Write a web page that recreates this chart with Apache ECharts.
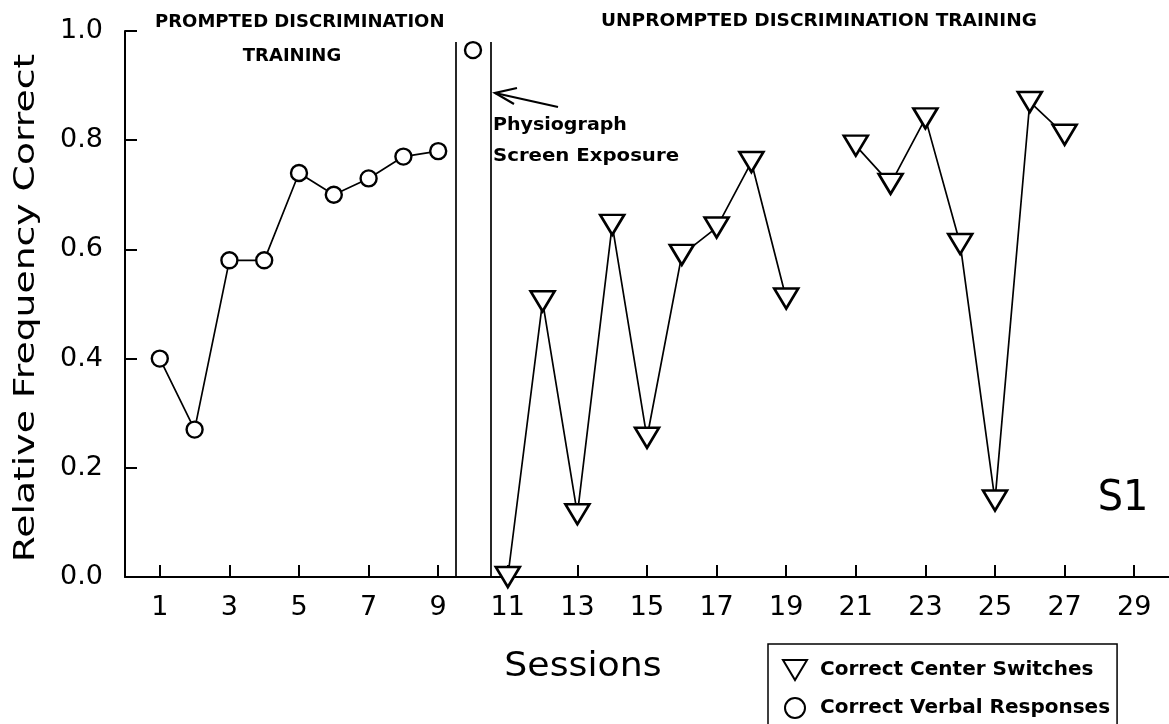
<!DOCTYPE html>
<html>
<head>
<meta charset="utf-8">
<script src="https://cdn.jsdelivr.net/npm/echarts@6/dist/echarts.min.js"></script>
<style>
html,body{margin:0;padding:0;background:#fff;}
#chart{width:1169px;height:724px;}
</style>
</head>
<body>
<div id="chart"></div>
<script>
// ---- data ----
const verbalSessions = [1, 2, 3, 4, 5, 6, 7, 8, 9];
const verbalValues   = [0.40, 0.27, 0.58, 0.58, 0.74, 0.70, 0.73, 0.77, 0.78];
const probeSessions  = [10];
const probeValues    = [0.965];
const switchSessions = [11, 12, 13, 14, 15, 16, 17, 18, 19, 20, 21, 22, 23, 24, 25, 26, 27];
const switchValues   = [0.00, 0.505, 0.115, 0.645, 0.255, 0.59, 0.64, 0.76, 0.51, null, 0.79, 0.72, 0.84, 0.61, 0.14, 0.87, 0.81];
const xTickLabels    = [1, 3, 5, 7, 9, 11, 13, 15, 17, 19, 21, 23, 25, 27, 29];
const yTickLabels    = [0.0, 0.2, 0.4, 0.6, 0.8, 1.0];
const phaseLines     = [9.5, 10.5];
const phaseLineTop   = 0.98;

const pair = (xs, ys) => xs.map((x, i) => [x, ys[i] === null ? '-' : ys[i]]);

const F = 'DejaVu Sans';
const chart = echarts.init(document.getElementById('chart'), null, {renderer: 'canvas'});

function txt(text, x, y, size, weight, sx, align) {
  return {
    type: 'text', x: x, y: y, scaleX: sx || 1,
    style: {text: text, fontFamily: F, fontSize: size, fontWeight: weight, fill: '#000',
      align: align || 'left', verticalAlign: 'middle'}
  };
}

const option = {
  backgroundColor: '#fff',
  animation: false,
  grid: {left: 125, right: 0, top: 31, bottom: 147, containLabel: false},
  xAxis: {
    type: 'value', min: 0, max: 30,
    axisLine: {show: true, lineStyle: {color: '#000', width: 2}},
    axisTick: {show: true, inside: true, length: 12, lineStyle: {color: '#000', width: 2}, customValues: xTickLabels},
    axisLabel: {color: '#000', fontFamily: F, fontSize: 27, margin: 17, customValues: xTickLabels},
    splitLine: {show: false}
  },
  yAxis: {
    type: 'value', min: 0, max: 1, interval: 0.2,
    axisLine: {show: true, lineStyle: {color: '#000', width: 2}},
    axisTick: {show: true, inside: true, length: 12, lineStyle: {color: '#000', width: 2}},
    axisLabel: {color: '#000', fontFamily: F, fontSize: 27, margin: 22,
      formatter: v => v.toFixed(1)},
    splitLine: {show: false}
  },
  legend: {
    orient: 'vertical', left: 768, top: 644, height: 110,
    borderColor: '#000', borderWidth: 1.5, borderRadius: 0,
    padding: [15, 7, 30, 14], itemGap: 16,
    itemWidth: 30, itemHeight: 20,
    textStyle: {fontFamily: F, fontWeight: 'bold', fontSize: 20, color: '#000', padding: [0, 0, 0, 5]},
    data: [
      {name: 'Correct Center Switches', icon: 'path://M0,0L24,0L12,20Z'},
      {name: 'Correct Verbal Responses', icon: 'circle'}
    ]
  },
  series: [
    {
      name: 'Correct Center Switches', type: 'line',
      data: pair(switchSessions, switchValues),
      connectNulls: false,
      symbol: 'triangle', symbolRotate: 180, symbolSize: [24, 20],
      itemStyle: {color: '#fff', borderColor: '#000', borderWidth: 2.6},
      lineStyle: {color: '#000', width: 1.7},
      z: 3
    },
    {
      name: 'Correct Verbal Responses', type: 'line',
      data: pair(verbalSessions, verbalValues),
      symbol: 'circle', symbolSize: 16,
      itemStyle: {color: '#fff', borderColor: '#000', borderWidth: 2.4},
      lineStyle: {color: '#000', width: 1.7},
      z: 3,
      markLine: {
        silent: true, symbol: ['none', 'none'],
        lineStyle: {color: '#000', width: 1.7, type: 'solid'},
        label: {show: false},
        data: phaseLines.map(x => [{coord: [x, 0]}, {coord: [x, phaseLineTop]}])
      }
    },
    {
      name: 'Correct Verbal Responses', type: 'line',
      data: pair(probeSessions, probeValues),
      symbol: 'circle', symbolSize: 16,
      itemStyle: {color: '#fff', borderColor: '#000', borderWidth: 2.4},
      lineStyle: {color: '#000', width: 1.7},
      z: 3
    }
  ],
  graphic: [
    {
      type: 'text', x: 26, y: 308, rotation: Math.PI / 2, scaleX: 1.3,
      style: {text: 'Relative Frequency Correct', fontFamily: F, fontSize: 29, fill: '#000',
        align: 'center', verticalAlign: 'middle'}
    },
    txt('Sessions', 583, 667, 33, 'normal', 1.1, 'center'),
    txt('PROMPTED DISCRIMINATION', 155, 23, 17, 'bold', 1.06),
    txt('TRAINING', 292, 57, 17, 'bold', 1.06, 'center'),
    txt('UNPROMPTED DISCRIMINATION TRAINING', 601, 22, 17, 'bold', 1.09),
    txt('Physiograph', 493, 126, 17, 'bold', 1.12),
    txt('Screen Exposure', 493, 157, 17, 'bold', 1.16),
    {type: 'line', shape: {x1: 558, y1: 107, x2: 495, y2: 93}, style: {stroke: '#000', lineWidth: 2.2}},
    {type: 'polyline', shape: {points: [[517, 88], [495, 93], [514, 104]]}, style: {stroke: '#000', lineWidth: 2.2, fill: null}},
    txt('S1', 1123, 499, 42, 'normal', 0.95, 'center')
  ]
};
chart.setOption(option);
</script>
</body>
</html>
